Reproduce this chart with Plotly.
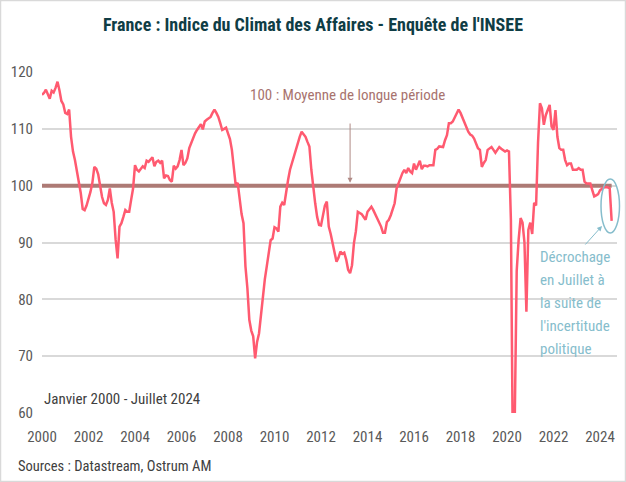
import plotly.graph_objects as go

# Monthly INSEE business climate values, Jan 2000 .. Jul 2024
values_2000 = [116.0, 116.3, 116.9, 115.9, 115.3, 116.7, 116.4, 117.2, 118.3, 116.8, 114.9, 114.3]
values_2001 = [112.8, 112.6, 113.4, 108.6, 106.0, 104.5, 102.5, 101.0, 98.7, 95.9, 95.7, 96.5]
values_2002 = [97.5, 98.9, 100.5, 103.3, 103.0, 102.0, 100.0, 98.0, 96.9, 96.6, 97.5, 99.5]
values_2003 = [97.0, 95.4, 90.5, 87.2, 92.8, 93.4, 94.5, 95.7, 95.4, 95.4, 97.5, 99.5]
values_2004 = [103.6, 102.8, 102.5, 103.0, 103.4, 103.1, 104.4, 104.2, 104.6, 105.0, 103.4, 104.2]
values_2005 = [104.4, 104.0, 104.4, 101.3, 101.8, 101.7, 101.0, 100.7, 103.5, 103.0, 103.4, 104.5]
values_2006 = [106.3, 103.6, 104.0, 104.8, 106.6, 107.5, 108.6, 109.2, 109.8, 110.4, 110.8, 109.9]
values_2007 = [111.3, 111.6, 111.9, 112.1, 112.8, 113.4, 112.8, 112.1, 111.0, 109.8, 110.0, 110.2]
values_2008 = [109.2, 108.2, 106.3, 102.8, 100.0, 100.5, 97.5, 95.0, 93.4, 85.8, 82.0, 76.4]
values_2009 = [74.5, 73.5, 69.6, 72.5, 74.0, 77.5, 79.9, 83.5, 85.8, 88.5, 90.4, 90.7]
values_2010 = [92.7, 92.5, 91.9, 96.3, 97.0, 96.6, 99.2, 101.0, 102.8, 104.0, 105.4, 106.5]
values_2011 = [107.5, 108.6, 109.5, 109.0, 108.6, 107.7, 106.9, 102.8, 99.5, 96.9, 94.5, 93.1]
values_2012 = [93.0, 94.5, 96.5, 97.2, 92.8, 91.5, 89.9, 88.5, 86.6, 87.3, 88.4, 88.0]
values_2013 = [88.2, 87.0, 85.2, 84.6, 86.0, 89.9, 92.0, 95.4, 95.2, 95.0, 94.5, 94.0]
values_2014 = [95.4, 95.8, 96.3, 95.7, 95.0, 94.5, 93.5, 92.8, 91.7, 91.7, 93.6, 94.0]
values_2015 = [94.8, 96.0, 96.9, 99.5, 100.5, 101.6, 102.2, 102.8, 102.2, 103.1, 102.5, 102.2]
values_2016 = [103.9, 102.8, 103.5, 104.4, 102.9, 103.5, 103.5, 103.4, 103.6, 103.6, 103.6, 106.3]
values_2017 = [106.5, 106.9, 106.8, 106.8, 108.0, 108.9, 111.0, 111.0, 111.3, 112.0, 112.8, 113.4]
values_2018 = [112.8, 111.9, 111.0, 110.2, 109.5, 109.0, 108.8, 108.3, 107.5, 106.6, 106.3, 103.3]
values_2019 = [104.0, 104.5, 106.3, 106.5, 106.8, 106.3, 105.8, 106.3, 106.8, 106.5, 106.3, 106.0]
values_2020 = [106.2, 106.0, 94.0, 53.0, 59.0, 85.0, 90.5, 94.3, 93.5, 90.0, 77.8, 92.2]
values_2021 = [93.5, 91.5, 97.0, 96.5, 107.5, 114.5, 113.6, 110.7, 112.4, 113.5, 114.2, 110.4]
values_2022 = [109.8, 113.3, 108.6, 106.6, 106.3, 106.3, 104.5, 103.6, 103.9, 103.9, 102.8, 102.8]
values_2023 = [102.8, 103.1, 102.8, 102.8, 100.7, 100.4, 100.4, 100.4, 99.2, 98.1, 98.3, 98.5]
values_2024 = [99.2, 99.5, 99.7, 99.7, 99.7, 99.5, 93.8]

long_run_mean = 100
x_tick_values = [2000, 2002, 2004, 2006, 2008, 2010, 2012, 2014, 2016, 2018, 2020, 2022, 2024]
y_tick_values = [60, 70, 80, 90, 100, 110, 120]
note_lines = ["Décrochage", "en Juillet à", "la suite de", "l'incertitude", "politique"]

values = (values_2000 + values_2001 + values_2002 + values_2003 + values_2004 + values_2005
          + values_2006 + values_2007 + values_2008 + values_2009 + values_2010 + values_2011
          + values_2012 + values_2013 + values_2014 + values_2015 + values_2016 + values_2017
          + values_2018 + values_2019 + values_2020 + values_2021 + values_2022 + values_2023
          + values_2024)
dates = [2000 + i / 12 for i in range(len(values))]

FONT = "Liberation Sans Narrow, Arial Narrow, Roboto Condensed, Liberation Sans, sans-serif"
PW, PH, L, T = 575, 341, 42, 72


def px(x):
    return (x - L) / PW


def py(y):
    return (T + PH - y) / PH


fig = go.Figure()
fig.add_trace(go.Scatter(x=dates, y=[long_run_mean] * len(dates), mode="lines",
                         line=dict(color="#AD7A75", width=4), hoverinfo="skip"))
fig.add_trace(go.Scatter(x=dates, y=values, mode="lines",
                         line=dict(color="#FF5A70", width=2.5)))

fig.update_layout(
    width=626, height=482,
    margin=dict(l=42, r=9, t=72, b=69, autoexpand=False),
    paper_bgcolor="white", plot_bgcolor="white",
    showlegend=False,
    font=dict(family=FONT, size=15, color="#595959"),
    title=dict(text="<b>France : Indice du Climat des Affaires - Enquête de l'INSEE</b>",
               x=313 / 626, xanchor="center", y=(482 - 25) / 482, yanchor="middle",
               font=dict(family=FONT, size=18, color="#0F3D45")),
    xaxis=dict(range=[2000, 2024.73], tickvals=x_tick_values, showgrid=False,
               zeroline=False, showline=False, ticks="", ticklabelstandoff=13,
               tickfont=dict(size=15, color="#595959")),
    yaxis=dict(range=[60, 120], tickvals=y_tick_values, showgrid=True, gridcolor="#D9D9D9",
               gridwidth=1.5, zeroline=False, showline=False, ticks="", ticklabelstandoff=8,
               tickfont=dict(size=15, color="#595959")),
)

fig.add_annotation(text="100 : Moyenne de longue période", xref="paper", yref="paper",
                   x=px(347), y=py(95), xanchor="center", yanchor="middle", showarrow=False,
                   font=dict(size=15, color="#A8736E"))
fig.add_annotation(x=2013.25, y=100.5, ax=2013.25, ay=111.2, axref="x", ayref="y",
                   xref="x", yref="y", showarrow=True, arrowhead=2, arrowsize=1,
                   arrowwidth=1, arrowcolor="#B08A86", text="")
fig.add_annotation(text="Janvier 2000 - Juillet 2024", xref="paper", yref="paper",
                   x=0, y=py(399), xanchor="left", yanchor="middle", showarrow=False,
                   font=dict(size=15, color="#404040"))
fig.add_annotation(text="Sources : Datastream, Ostrum AM", xref="paper", yref="paper",
                   x=px(16), y=py(466), xanchor="left", yanchor="middle", showarrow=False,
                   font=dict(size=14.5, color="#404040"))
for k, line_text in enumerate(note_lines):
    fig.add_annotation(text=line_text, xref="paper", yref="paper",
                       x=px(538), y=py(257 + 23 * k), xanchor="left", yanchor="middle",
                       showarrow=False, font=dict(size=15, color="#86BDCC"))
fig.add_shape(type="circle", xref="paper", yref="paper",
              x0=px(601), x1=px(619.5), y0=py(233), y1=py(179),
              line=dict(color="#86BDCC", width=1.5))
fig.add_annotation(x=px(602), y=py(226), ax=-18, ay=20,
                   xref="paper", yref="paper",
                   showarrow=True, arrowhead=2, arrowsize=1, arrowwidth=1,
                   arrowcolor="#86BDCC", text="")
fig.add_shape(type="rect", xref="paper", yref="paper", x0=px(0.5), x1=px(625.5),
              y0=py(481.5), y1=py(0.5), line=dict(color="#D9D9D9", width=1.5))

fig.write_html("out.html", config={"displayModeBar": False},
               post_script="document.body.style.margin='0';document.body.style.overflow='hidden';")
